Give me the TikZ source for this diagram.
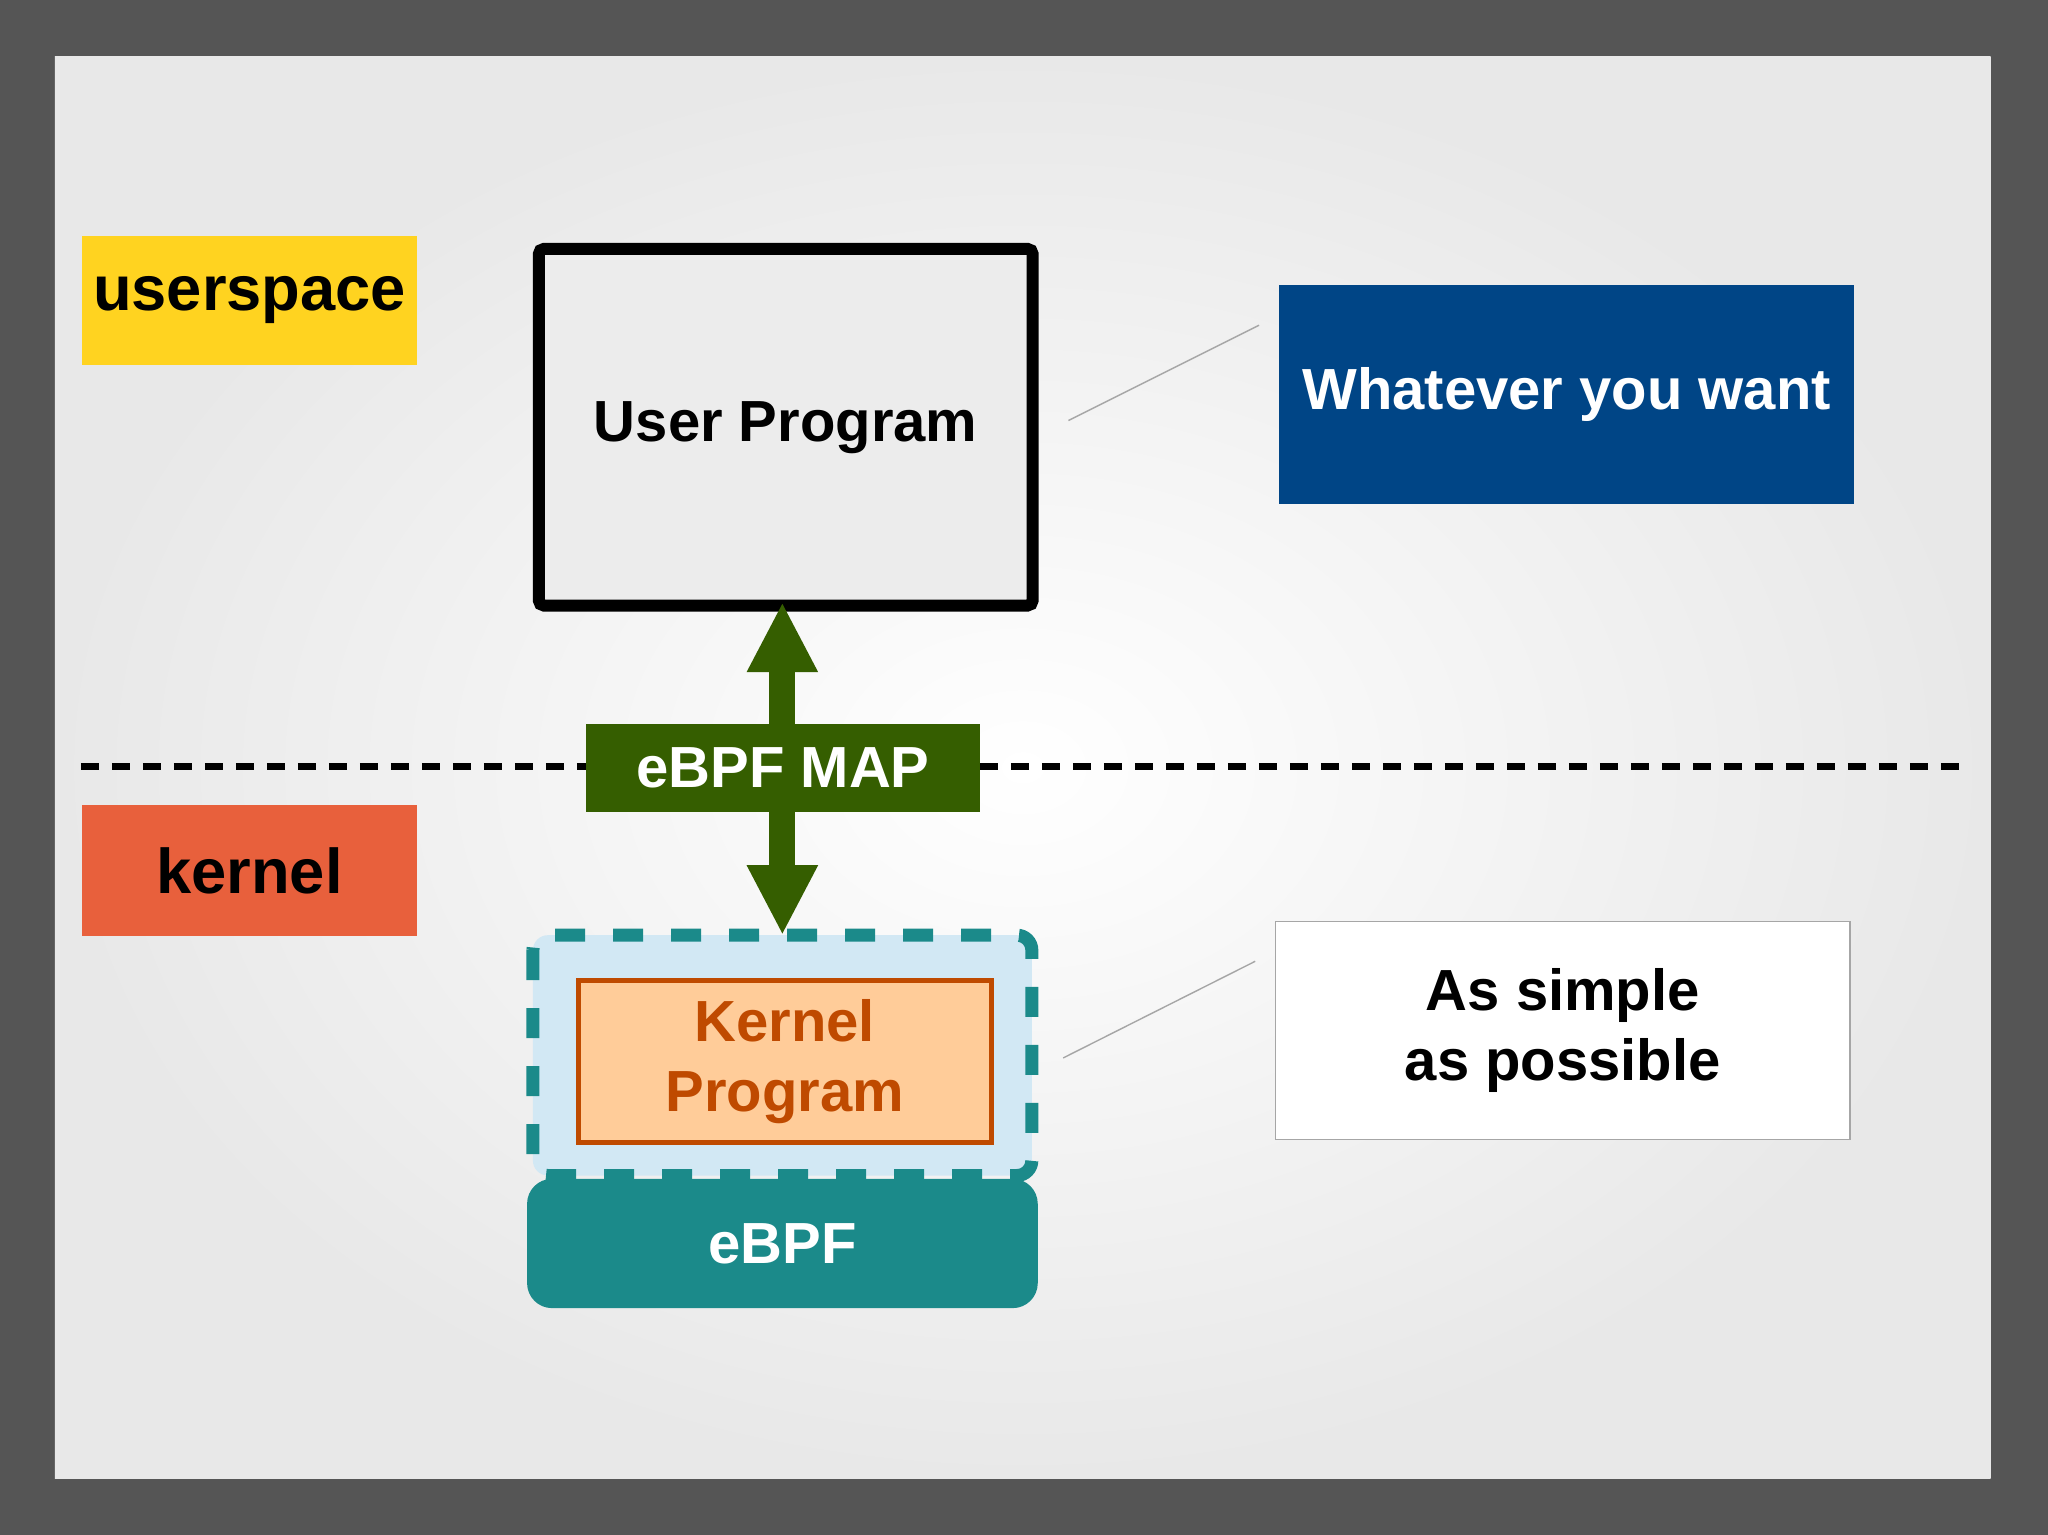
\documentclass[tikz,border=0pt]{standalone}
\usepackage{fontspec}
\setmainfont{Liberation Sans}
\usetikzlibrary{positioning,arrows.meta,calc}
\definecolor{bgdark}{HTML}{555555}
\definecolor{yellowbox}{HTML}{FFD320}
\definecolor{bluebox}{HTML}{004586}
\definecolor{mapgreen}{HTML}{355E00}
\definecolor{kernelred}{HTML}{E8603C}
\definecolor{teal}{HTML}{1B8A8A}
\definecolor{lightblue}{HTML}{D2E8F4}
\definecolor{peach}{HTML}{FFCC99}
\definecolor{rust}{HTML}{BF4A00}
\tikzset{
  lbl/.style={font=\fontsize{16.5}{20}\selectfont\bfseries, align=center},
  tag/.style={lbl, inner sep=0pt, anchor=north west},
  note/.style={draw=gray!70, line width=0.4pt},
}
\begin{document}
\begin{tikzpicture}[x=0.013061cm, y=-0.013061cm]
		% background and slide
		\fill[bgdark] (0,0) rectangle (1568,1175);
		\shade[inner color=white, outer color=gray!18] (42,43) rectangle (1524,1132);

		% region labels
		\node[tag, fill=yellowbox, font=\fontsize{18}{22}\selectfont\bfseries, minimum width=257*0.013061cm, minimum height=99*0.013061cm] (user) at (62,180) {userspace};
		\node[tag, fill=kernelred, font=\fontsize{18}{22}\selectfont\bfseries, minimum width=257*0.013061cm, minimum height=100*0.013061cm] (kern) at (62,616) {kernel};

		% boundary
		\draw[line width=0.65mm, dash pattern=on 1.8mm off 1.3mm] (62,587) coordinate (bl) -- (1505,587) coordinate (br);

		% user program
		\node[tag, draw=black, line width=1.2mm, rounded corners=0.5mm, fill=gray!15, minimum width=378*0.013061cm, minimum height=273*0.013061cm] (prog) at (408,186) {User Program};

		% kernel side
		\draw[teal, line width=1.3mm, fill=lightblue, dash pattern=on 3mm off 2.8mm, rounded corners=1.5mm] (408,716) rectangle (790,900);
		\node[tag, draw=rust, line width=0.5mm, fill=peach, text=rust, minimum width=316*0.013061cm, minimum height=124*0.013061cm] (kprog) at (441,749) {Kernel\\Program};
		\node[tag, fill=teal, text=white, rounded corners=2.5mm, minimum width=391*0.013061cm, minimum height=99*0.013061cm] (ebpf) at (403,902) {eBPF};

		% map and arrows
		\coordinate (top) at (599,461);
		\coordinate (bot) at (599,716);
		\draw[mapgreen, line width=2.6mm, -{Triangle[length=7mm, width=6.6mm]}] (599,588) -- (top);
		\draw[mapgreen, line width=2.6mm, -{Triangle[length=7mm, width=6.6mm]}] (599,588) -- (bot);
		\node[tag, fill=mapgreen, text=white, minimum width=302*0.013061cm, minimum height=67*0.013061cm] (map) at (448,554) {eBPF MAP};

		% notes
		\node[tag, fill=bluebox, text=white, minimum width=440*0.013061cm, minimum height=167*0.013061cm] (want) at (979,218) {Whatever you want};
		\node[tag, note, fill=white, minimum width=440*0.013061cm, minimum height=167*0.013061cm] (simple) at (976,705) {As simple\\as possible};
		\draw[note] (818,322) coordinate (a1) -- (964,249) coordinate (a2);
		\draw[note] (814,810) coordinate (b1) -- (961,736) coordinate (b2);
\end{tikzpicture}
\end{document}
